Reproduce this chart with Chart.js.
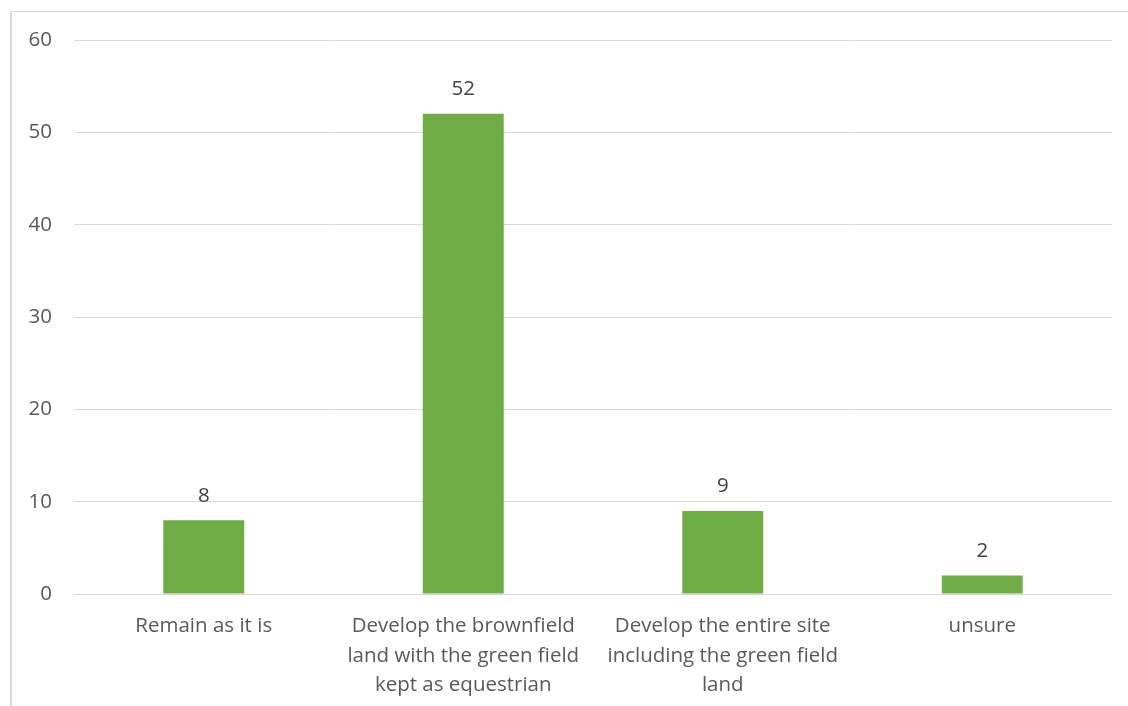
<!DOCTYPE html>
<html>
<head>
<meta charset="utf-8">
<script src="https://cdn.jsdelivr.net/npm/chart.js@4"></script>
<style>
  html, body { margin: 0; padding: 0; background: #fff; }
  #wrap { position: relative; width: 1128px; height: 706px; overflow: hidden; }
  #frame { position: absolute; left: 10px; top: 11px; width: 1200px; height: 800px;
           border-left: 2px solid #d9d9d9; border-top: 1px solid #d9d9d9; }
  canvas { position: absolute; left: 0; top: 0; }
</style>
</head>
<body>
<div id="wrap">
  <div id="frame"></div>
  <canvas id="barChart" width="1128" height="706"></canvas>
</div>
<script>
const categories = [
    ['Remain as it is'],
    ['Develop the brownfield', 'land with the green field', 'kept as equestrian'],
    ['Develop the entire site', 'including the green field', 'land'],
    ['unsure']
];
const responses = [8, 52, 9, 2];
const yTicks = [0, 10, 20, 30, 40, 50, 60];

const font = "'Open Sans', 'Liberation Sans', sans-serif";

// value text drawn above each bar
const barValues = {
    id: 'barValues',
    afterDatasetsDraw(chart) {
        const ctx = chart.ctx;
        const meta = chart.getDatasetMeta(0);
        ctx.save();
        ctx.font = '20.5px ' + font;
        ctx.fillStyle = '#404040';
        ctx.textAlign = 'center';
        ctx.textBaseline = 'bottom';
        meta.data.forEach((bar, i) => {
            ctx.fillText(String(responses[i]), bar.x, bar.y - 14);
        });
        ctx.restore();
    }
};

const ctxBar = document.getElementById('barChart').getContext('2d');
const barChart = new Chart(ctxBar, {
    type: 'bar',
    data: {
        labels: categories,
        datasets: [{
            data: responses,
            backgroundColor: '#70ad47',
            borderWidth: 0,
            categoryPercentage: 1,
            barPercentage: 0.312
        }]
    },
    options: {
        responsive: false,
        animation: false,
        layout: { padding: { left: 0, right: 16, top: 40, bottom: 0 } },
        plugins: {
            legend: { display: false },
            tooltip: { enabled: false }
        },
        scales: {
            x: {
                grid: { display: false },
                border: { display: false },
                ticks: {
                    color: '#595959',
                    font: { family: font, size: 20.5, lineHeight: 1.42 },
                    padding: 10,
                    maxRotation: 0,
                    autoSkip: false
                },
                afterFit(scale) { scale.height = 112; }
            },
            y: {
                min: 0,
                max: 60,
                afterBuildTicks(scale) { scale.ticks = yTicks.map(v => ({ value: v })); },
                grid: { color: '#d9d9d9', lineWidth: 1, drawTicks: false },
                border: { display: false },
                ticks: {
                    color: '#595959',
                    font: { family: font, size: 20.5 },
                    padding: 22
                },
                afterFit(scale) { scale.width = 74; }
            }
        }
    },
    plugins: [barValues]
});
</script>
</body>
</html>
